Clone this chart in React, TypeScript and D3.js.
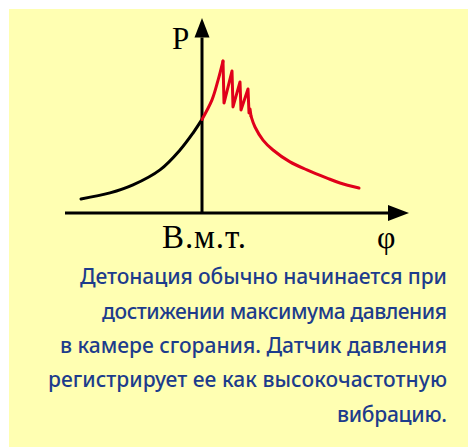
import React from "react";
import * as d3 from "d3";

// Pressure curve before TDC (crank angle, pressure)
const compressionAngle = [-60.5, -46, -34.5, -21, -11, -4.5, 0];
const compressionP = [7.2, 10.3, 14.4, 22.1, 32.3, 41, 48];

// Rising part after TDC
const riseAngle = [0, 5, 8, 10.5];
const riseP = [48, 58, 68, 77.9];

// Knock oscillations (sawtooth)
const knockAngle = [10.5, 11, 15, 15.5, 19, 19.5, 23, 23.5, 24, 24.5];
const knockP = [77.9, 56.4, 72.8, 54.4, 67.2, 52.8, 63.6, 51.3, 53.3, 49.7];

// Expansion decay
const decayAngle = [24.5, 26.5, 30.5, 35.5, 44, 52.5, 62.5, 69, 78.5];
const decayP = [49.7, 44.1, 37.4, 32.3, 26.2, 22.1, 17.9, 15.4, 12.8];

const axisLabels = { y: "P", x: "φ", tdc: "В.м.т." };
const captionLines = [
  "Детонация обычно начинается при",
  "достижении максимума давления",
  "в камере сгорания. Датчик давления",
  "регистрирует ее как высокочастотную",
  "вибрацию.",
];
const captionStart = [80, 102, 60, 48, 337];

export default function App() {
  const W = 468, H = 447;
  const x = d3.scaleLinear().domain([-68.5, 103.5]).range([65, 409]);
  const y = d3.scaleLinear().domain([0, 100]).range([213, 18]);
  const zip = (a: number[], b: number[]) => a.map((v, i) => [v, b[i]] as [number, number]);
  const smooth = d3.line<[number, number]>().x(d => x(d[0])).y(d => y(d[1])).curve(d3.curveCatmullRom.alpha(0.5));
  const sharp = d3.line<[number, number]>().x(d => x(d[0])).y(d => y(d[1])).curve(d3.curveLinear);

  const x0 = x(0);
  const yAxis0 = y(0);
  const textColor = "#1d3c8c";
  const captionRight = 447;
  const captionBase = [284, 319, 353, 387, 422];
  const serif = "'Liberation Serif', 'Times New Roman', serif";

  return (
    <svg width={W} height={H} style={{ position: "absolute", left: 0, top: 0 }}>
      <rect x={0} y={0} width={W} height={H} fill="#ffffff" />
      <rect x={9} y={9} width={W - 9} height={H - 9} fill="#ffffb2" />
      {/* axes */}
      <line x1={x(-68.5)} x2={x(93)} y1={yAxis0} y2={yAxis0} stroke="#000" strokeWidth={3} />
      <path d={`M${x(103.5)},${yAxis0} L${x(93)},${yAxis0 - 8} L${x(93)},${yAxis0 + 8} Z`} fill="#000" />
      <line x1={x0} x2={x0} y1={yAxis0} y2={y(90)} stroke="#000" strokeWidth={3} />
      <path d={`M${x0},${y(100)} L${x0 - 7.5},${y(90)} L${x0 + 7.5},${y(90)} Z`} fill="#000" />
      {/* curves */}
      <path d={smooth(zip(compressionAngle, compressionP)) || ""} fill="none" stroke="#000" strokeWidth={3} strokeLinecap="round" />
      <path d={smooth(zip(riseAngle, riseP)) || ""} fill="none" stroke="#e0001a" strokeWidth={3} strokeLinecap="round" />
      <path d={sharp(zip(knockAngle, knockP)) || ""} fill="none" stroke="#e0001a" strokeWidth={3} strokeLinejoin="round" strokeLinecap="round" />
      <path d={smooth(zip(decayAngle, decayP)) || ""} fill="none" stroke="#e0001a" strokeWidth={3} strokeLinecap="round" />
      {/* axis labels */}
      <text x={172} y={49} fontFamily={serif} fontSize={31} fill="#000">{axisLabels.y}</text>
      <text x={162} y={248} fontFamily={serif} fontSize={33} fill="#000" textLength={84} lengthAdjust="spacing">{axisLabels.tdc}</text>
      <text x={377} y={248} fontFamily={serif} fontSize={32} fill="#000">{axisLabels.x}</text>
      {/* caption */}
      {captionLines.map((line, i) => (
        <text key={i} x={captionStart[i]} y={captionBase[i]} fontFamily="'Noto Sans', sans-serif" fontSize={21} fontWeight={500}
          fill={textColor} textLength={captionRight - captionStart[i]} lengthAdjust="spacing">{line}</text>
      ))}
    </svg>
  );
}
